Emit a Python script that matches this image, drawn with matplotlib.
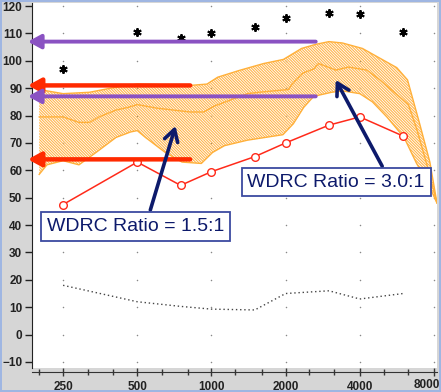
import numpy as np
import matplotlib
matplotlib.use("Agg")
import matplotlib.pyplot as plt
from matplotlib.ticker import FixedLocator, NullFormatter

# === Data ===
freqs = [250, 500, 750, 1000, 1500, 2000, 3000, 4000, 6000]
ucl_db = [97, 110.5, 108.5, 110, 112.5, 115.5, 117.5, 117, 110.5]
output_db = [47.5, 63, 54.5, 59.5, 65, 70, 76.5, 79.5, 72.5]
threshold_db = [18, 12, 10.3, 9.3, 9, 15, 16, 13, 15]

# speech band (hatched), upper / lower edge and middle line
band_up_f = [200, 250, 320, 390, 500, 820, 960, 1060, 1300, 1630, 1960, 2320,
             2650, 3000, 3400, 4100, 5650, 6250, 7000, 7700, 8230]
band_up_db = [89.5, 88, 88.5, 90, 91.5, 91, 91.5, 94, 96.5, 99, 100.5, 104.5,
              106, 107, 106.5, 104.5, 97.5, 93, 77, 63, 48]
band_lo_f = [200, 215, 250, 290, 340, 410, 470, 500, 540, 650, 760, 910, 1010,
             1130, 1400, 1950, 2150, 2370, 2600, 3075, 3400, 4000, 4500, 5150,
             6050, 6800, 7500, 8230]
band_lo_db = [58.5, 62, 63.5, 62, 66.5, 72, 74, 74.5, 72, 66.5, 63, 62.5, 66.5,
              69, 71, 73, 77, 83, 87, 88.5, 89, 88, 85, 79.5,
              72, 62.5, 56, 48]
band_mid_f = [200, 250, 290, 320, 350, 410, 460, 500, 600, 820, 930, 1030, 1400,
              1600, 2050, 2150, 2350, 2600, 2720, 3200, 3600, 4270, 4830, 6300,
              6830, 7600, 8230]
band_mid_db = [79.5, 79.5, 77.5, 77.5, 79.5, 82, 83, 84, 82.7, 81.3, 81.3, 83.5, 88,
               88.6, 89.5, 92, 95.5, 97, 99, 96.6, 97.7, 96.6, 93, 84,
               74.7, 60, 48]

# reference arrows (level, right end frequency)
red_levels = [91, 64]
red_end = 820
purple_levels = [107, 87]
purple_end = 2650

x_major = [250, 500, 1000, 2000, 4000, 8000]
x_minor = [200, 315, 400, 630, 800, 1250, 1600, 2500, 3150, 5000, 6300]
y_ticks = list(range(-10, 121, 10))

# === Figure ===
plt.rcParams["font.family"] = ["Liberation Sans", "DejaVu Sans"]
plt.rcParams["hatch.linewidth"] = 0.8
fig = plt.figure(figsize=(4.41, 3.92), dpi=100)
fig.patch.set_facecolor("#d6d6d6")
fig.patch.set_edgecolor("#9fb6e2")
fig.patch.set_linewidth(1.5)

ax = fig.add_axes([32 / 441, 1 - 368 / 392, 405 / 441, 365 / 392])
ax.set_facecolor("white")
ax.set_xscale("log")
ax.set_xlim(187, 8230)
ax.set_ylim(-12.2, 121.1)

for s in ["top", "right"]:
    ax.spines[s].set_visible(False)
ax.spines["left"].set_color("#222222")
ax.spines["bottom"].set_position(("outward", 3))
ax.spines["bottom"].set_color("#333333")

ax.xaxis.set_major_locator(FixedLocator(x_major))
ax.xaxis.set_minor_locator(FixedLocator(x_minor))
ax.xaxis.set_minor_formatter(NullFormatter())
# last label is nudged left by hand below so it stays inside the frame
ax.set_xticklabels([str(v) for v in x_major[:-1]] + [""])
ax.set_yticks(y_ticks)
ax.tick_params(axis="x", which="major", direction="inout", length=6, width=1,
               labelsize=8.5, pad=3, colors="#333333")
ax.tick_params(axis="x", which="minor", direction="inout", length=5, width=1,
               colors="#333333")
ax.tick_params(axis="y", direction="out", length=5, width=1, labelsize=8.5,
               pad=2, colors="#222222")
for lab in ax.get_xticklabels() + ax.get_yticklabels():
    lab.set_fontweight("bold")
    lab.set_color("#222222")
ax.annotate(str(x_major[-1]), xy=(x_major[-1], 0), xycoords=("data", "axes fraction"),
            xytext=(-5, -8), textcoords="offset points", ha="center", va="top",
            fontsize=8.5, fontweight="bold", color="#222222", annotation_clip=False)

# dotted grid: one dot at each intersection
gx, gy = np.meshgrid(x_major, y_ticks)
ax.scatter(gx.ravel(), gy.ravel(), s=1.2, color="#888888", linewidths=0, zorder=1)

# hatched speech band
poly_f = np.concatenate([band_up_f, band_lo_f[::-1]])
poly_db = np.concatenate([band_up_db, band_lo_db[::-1]])
ax.fill(poly_f, poly_db, facecolor="none", edgecolor="#ffb54d",
        hatch="\\" * 12, linewidth=0, zorder=2)
ax.plot(poly_f, poly_db, color="#ffb03a", lw=1, zorder=2)
ax.plot(band_mid_f, band_mid_db, color="#ffb03a", lw=1, zorder=2)

# threshold, output and UCL
ax.plot(freqs, threshold_db, color="#444444", lw=1, linestyle=(0, (1, 2)), zorder=3)
ax.plot(freqs, output_db, color="#ff2a1a", lw=1.1, marker="o", markersize=5.5,
        markerfacecolor="white", markeredgecolor="#ff2a1a", markeredgewidth=1,
        zorder=4)
ax.plot(freqs, ucl_db, linestyle="none", marker=(6, 2, 0), markersize=6,
        markeredgewidth=1.4, color="black", zorder=4)

# horizontal reference arrows
for lvl in red_levels:
    ax.annotate("", xy=(180, lvl), xytext=(red_end, lvl), annotation_clip=False,
                arrowprops=dict(arrowstyle="-|>,head_length=0.55,head_width=0.3",
                                color="#ff2a00", lw=3.2, mutation_scale=14,
                                shrinkA=0, shrinkB=0), zorder=5)
for lvl in purple_levels:
    ax.annotate("", xy=(180, lvl), xytext=(purple_end, lvl), annotation_clip=False,
                arrowprops=dict(arrowstyle="-|>,head_length=0.55,head_width=0.3",
                                color="#8a52c2", lw=2.8, mutation_scale=14,
                                shrinkA=0, shrinkB=0), zorder=5)

# WDRC callouts
navy = "#0d1a6b"
box = dict(boxstyle="square,pad=0.3", facecolor="white", edgecolor="#3c4aa0", lw=1.3)
ax.annotate("", xy=(715, 76.2), xytext=(565, 45.5),
            arrowprops=dict(arrowstyle="->,head_length=0.6,head_width=0.35",
                            color=navy, lw=2.6, mutation_scale=14,
                            shrinkA=0, shrinkB=0), zorder=6)
ax.annotate("", xy=(3194, 93), xytext=(4932, 61.5),
            arrowprops=dict(arrowstyle="->,head_length=0.6,head_width=0.35",
                            color=navy, lw=2.6, mutation_scale=14,
                            shrinkA=0, shrinkB=0), zorder=6)
ax.text(494, 39.5, "WDRC Ratio = 1.5:1", fontsize=14, color=navy,
        ha="center", va="center", bbox=box, zorder=7)
ax.text(3205, 55.7, "WDRC Ratio = 3.0:1", fontsize=14, color=navy,
        ha="center", va="center", bbox=box, zorder=7)

fig.savefig("out.png", dpi=100, facecolor=fig.get_facecolor(),
            edgecolor=fig.get_edgecolor())
